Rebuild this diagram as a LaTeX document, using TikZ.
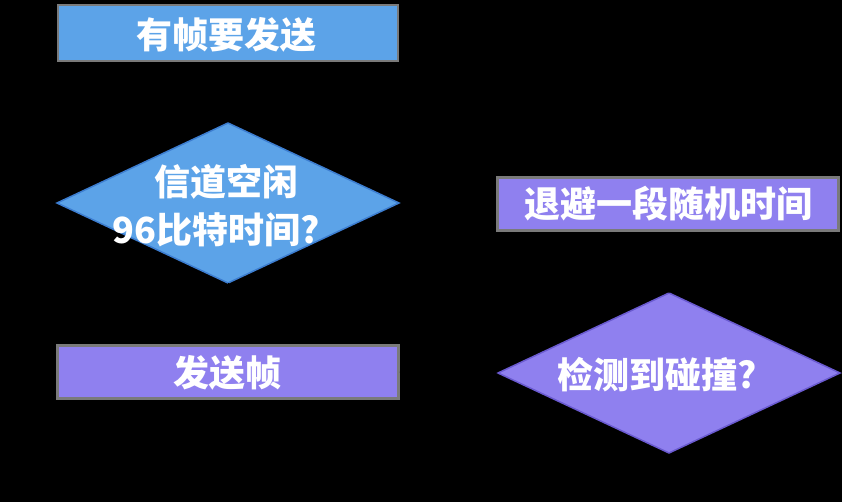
\documentclass[tikz,border=0pt]{standalone}
\usepackage{fontspec}
\newfontfamily\cjk{Noto Sans CJK SC}
\usetikzlibrary{shapes.geometric,arrows.meta}
\definecolor{bfill}{HTML}{5CA3E8}
\definecolor{bline}{HTML}{3C7DD0}
\definecolor{pfill}{HTML}{8F80EF}
\definecolor{pline}{HTML}{6A5AD0}
\definecolor{gedge}{HTML}{7A7A7A}
\tikzset{
  lbl/.style={text=white,font=\cjk\bfseries\fontsize{36}{47}\selectfont,align=center,inner sep=0pt},
  bbox/.style={rectangle,fill=bfill,draw=gedge,line width=2.5pt,inner sep=0pt},
  pbox/.style={rectangle,fill=pfill,draw=gedge,line width=2.5pt,inner sep=0pt},
  conn/.style={draw=black,line width=1pt,-{Latex[length=6pt]}}
}
\begin{document}
\begin{tikzpicture}[x=1pt,y=-1pt]
\fill[black] (0,0) rectangle (842,502);
\useasboundingbox (0,0) rectangle (842,502);
% boxes
\node[bbox,minimum width=340pt,minimum height=56pt] (start) at (228,33) {};
\node[lbl] (t1) at (226,35) {有帧要发送};
\node[pbox,minimum width=341pt,minimum height=53pt] (send) at (228,372) {};
\node[lbl] (t2) at (227,373) {发送帧};
\node[pbox,minimum width=341pt,minimum height=53pt] (back) at (668,204) {};
\node[lbl] (t3) at (668,204) {退避一段随机时间};
% diamonds
\fill[bfill,draw=bline,line width=1.5pt] (57,203) -- (228,123) -- (399,203) -- (228,283) -- cycle;
\coordinate (d1t) at (228,123);
\coordinate (d1b) at (228,283);
\coordinate (d1r) at (399,203);
\node[lbl] (q1a) at (226,182) {信道空闲};
\node[lbl] (q1b) at (216,230) {96比特时间?};
\fill[pfill,draw=pline,line width=1.5pt] (498,373) -- (669,293) -- (840,373) -- (669,453) -- cycle;
\coordinate (d2t) at (669,293);
\coordinate (d2l) at (498,373);
\node[lbl] (q2) at (657,375) {检测到碰撞?};
% connectors (black, as in the reference)
\draw[conn] (start.south) -- (d1t);
\draw[conn] (d1b) -- (send.north);
\draw[conn] (send.east) -- (d2l);
\draw[conn] (d2t) -- (back.south);
\end{tikzpicture}
\end{document}
